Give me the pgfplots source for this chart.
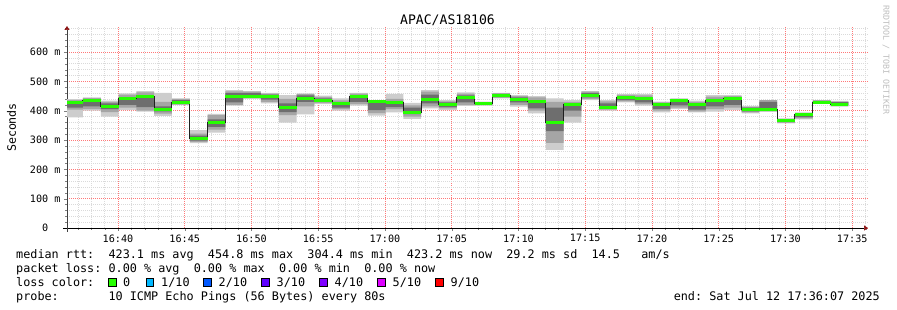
\documentclass[border=0pt]{standalone}
\usepackage{fontspec}
\setmainfont{DejaVu Sans Mono}
\usepackage{pgfplots}
\pgfplotsset{compat=1.18}
\usepackage{pgfplotstable}
\usepgfplotslibrary{fillbetween}
\usetikzlibrary{arrows.meta}

\definecolor{smokeA}{RGB}{205,205,205}
\definecolor{smokeB}{RGB}{165,165,165}
\definecolor{smokeC}{RGB}{110,110,110}
\definecolor{medgreen}{RGB}{38,255,0}
\definecolor{medblack}{RGB}{32,32,32}
\definecolor{mgrid}{RGB}{255,120,120}
\definecolor{ngrid}{RGB}{218,218,218}
\definecolor{arrowred}{RGB}{140,20,20}
\definecolor{lossA}{RGB}{0,184,255}
\definecolor{lossB}{RGB}{0,89,255}
\definecolor{lossC}{RGB}{94,0,255}
\definecolor{lossD}{RGB}{126,0,255}
\definecolor{lossE}{RGB}{221,0,255}
\definecolor{lossF}{RGB}{255,0,0}
\definecolor{wmark}{RGB}{190,190,190}

% t = minutes after 16:00; lo/hi = outer smoke, ml/mh = middle, il/ih = inner, med = median rtt (ms)
\pgfplotstableread{
t       lo  ml  il  med ih  mh  hi
36.18   377 404 410 427 430 436 439
37.376  400 405 415 436 438 443 445
38.709  380 395 405 413 425 430 434
40.043  402 410 420 440 445 455 459
41.376  397 400 412 447 450 462 467
42.709  382 390 398 405 415 430 461
44.043  419 421 424 428 436 440 442
45.376  289 294 298 304 315 322 334
46.709  325 335 345 359 370 385 389
48.043  417 420 428 450 460 466 470
49.376  440 443 446 448 460 465 467
50.709  425 430 438 450 455 458 461
52.043  359 385 395 411 425 440 453
53.376  387 415 430 440 452 456 459
54.709  422 426 430 436 442 447 451
56.043  400 405 410 423 428 435 442
57.376  417 422 430 448 452 458 461
58.709  383 392 402 431 430 433 436
60.043  394 405 412 428 432 440 457
61.376  372 380 388 395 410 418 427
62.709  408 415 425 439 455 465 470
64.043  402 408 412 420 428 432 436
65.376  416 420 428 444 452 458 462
66.709  417 419 420 423 427 429 431
68.043  442 444 447 453 457 459 461
69.376  414 420 428 439 445 450 453
70.709  391 400 408 430 436 445 450
72.043  266 290 330 359 410 430 442
73.376  359 380 400 422 426 430 436
74.709  436 440 445 453 460 465 467
76.043  400 404 408 410 425 432 436
77.376  428 432 436 444 450 454 457
78.709  417 422 428 440 446 452 457
80.043  394 400 406 420 424 428 431
81.376  406 410 418 434 436 440 442
82.709  394 398 404 422 425 430 434
84.043  397 405 415 434 440 448 453
85.376  402 410 420 442 446 450 453
86.709  391 394 398 405 410 413 416
88.043  397 398 402 405 430 436 436
89.376  357 359 361 366 370 372 374
90.709  370 374 378 387 388 391 394
92.043  423 424 426 428 433 435 436
93.376  414 416 418 422 429 431 433
94.709  414 416 418 422 429 431 433
}\smoke

\begin{document}
\begin{tikzpicture}[x=1pt,y=1pt]
\path (0,0) rectangle (897,310);
\begin{axis}[
  at={(67pt,82pt)}, anchor=south west,
  scale only axis, width=801pt, height=202pt,
  xmin=36.18, xmax=96.18, ymin=0, ymax=688.7,
  axis x line=bottom, axis y line=left,
  x axis line style={-{Triangle[length=4pt,width=5pt,color=arrowred]}, shorten <=-4pt, line width=0.6pt, black},
  y axis line style={-{Triangle[length=4pt,width=5pt,color=arrowred]}, shorten <=-4pt, line width=0.6pt, black!75},
  xtick={40,45,...,95},
  xticklabels={16:40,16:45,16:50,16:55,17:00,17:05,17:10,17:15,17:20,17:25,17:30,17:35},
  minor xtick={37,38,39,41,42,43,44,46,47,48,49,51,52,53,54,56,57,58,59,61,62,63,64,66,67,68,69,71,72,73,74,76,77,78,79,81,82,83,84,86,87,88,89,91,92,93,94,96},
  ytick={0,100,...,600},
  yticklabels={0\phantom{~m},100 m,200 m,300 m,400 m,500 m,600 m},
  minor ytick={20,40,60,80,120,140,160,180,220,240,260,280,320,340,360,380,420,440,460,480,520,540,560,580,620,640,660,680},
  tick align=outside, major tick length=3pt, minor tick length=2pt,
  grid=both,
  every axis grid/.style={},
  every major grid/.style={draw=mgrid, dash pattern=on 1pt off 1pt, line width=0.6pt},
  every minor grid/.style={draw=ngrid, dash pattern=on 1pt off 1pt, line width=0.5pt},
  ticklabel style={font=\fontsize{10.15}{12}\selectfont},
  /pgf/number format/assume math mode=true,
]
\addplot[name path=lo, draw=none, const plot] table[x=t,y=lo]{\smoke};
\addplot[name path=hi, draw=none, const plot] table[x=t,y=hi]{\smoke};
\addplot[smokeA, draw=none] fill between[of=lo and hi];
\addplot[name path=ml, draw=none, const plot] table[x=t,y=ml]{\smoke};
\addplot[name path=mh, draw=none, const plot] table[x=t,y=mh]{\smoke};
\addplot[smokeB, draw=none] fill between[of=ml and mh];
\addplot[name path=il, draw=none, const plot] table[x=t,y=il]{\smoke};
\addplot[name path=ih, draw=none, const plot] table[x=t,y=ih]{\smoke};
\addplot[smokeC, draw=none] fill between[of=il and ih];
\addplot[medblack, line width=1pt, const plot] table[x=t,y=med]{\smoke};
\addplot[medgreen, line width=3pt, jump mark left] table[x=t,y=med]{\smoke};
\end{axis}

\node[anchor=base, inner sep=0, font=\fontsize{13.1}{15}\selectfont] at (447.5,285) {APAC/AS18106};
\node[rotate=90, inner sep=0, font=\fontsize{11.6}{14}\selectfont] at (11.5,182.5) {Seconds};
\node[rotate=-90, inner sep=0, text=wmark, font=\fontsize{8.3}{10}\selectfont] at (886,250) {RRDTOOL / TOBI OETIKER};

\begin{scope}[every node/.style={anchor=base west, inner sep=0, font=\fontsize{11.8}{14}\selectfont\frenchspacing}]
\node at (16,51.7) {median rtt:~~423.1 ms avg~~454.8 ms max~~304.4 ms min~~423.2 ms now~~29.2 ms sd~~14.5~~~am/s};
\node at (16,37.5) {packet loss: 0.00 \% avg~~0.00 \% max~~0.00 \% min~~0.00 \% now};
\node at (16,23.3) {loss color:};
\node at (16,9.1) {probe:~~~~~~~10 ICMP Echo Pings (56 Bytes) every 80s};
\node at (123,23.3) {0};
\node at (161,23.3) {1/10};
\node at (218.5,23.3) {2/10};
\node at (276.5,23.3) {3/10};
\node at (334.5,23.3) {4/10};
\node at (392.5,23.3) {5/10};
\node at (450.5,23.3) {9/10};
\node[anchor=base east] at (880,9.1) {end: Sat Jul 12 17:36:07 2025};
\end{scope}
\begin{scope}[line width=0.8pt]
\draw[fill=medgreen] (108.8,23.8) rectangle (116.4,31.6);
\draw[fill=lossA] (146.2,23.8) rectangle (153.8,31.6);
\draw[fill=lossB] (203.8,23.8) rectangle (211.4,31.6);
\draw[fill=lossC] (261.5,23.8) rectangle (269.1,31.6);
\draw[fill=lossD] (319.5,23.8) rectangle (327.1,31.6);
\draw[fill=lossE] (377.5,23.8) rectangle (385.1,31.6);
\draw[fill=lossF] (435.5,23.8) rectangle (443.1,31.6);
\end{scope}
\end{tikzpicture}
\end{document}
